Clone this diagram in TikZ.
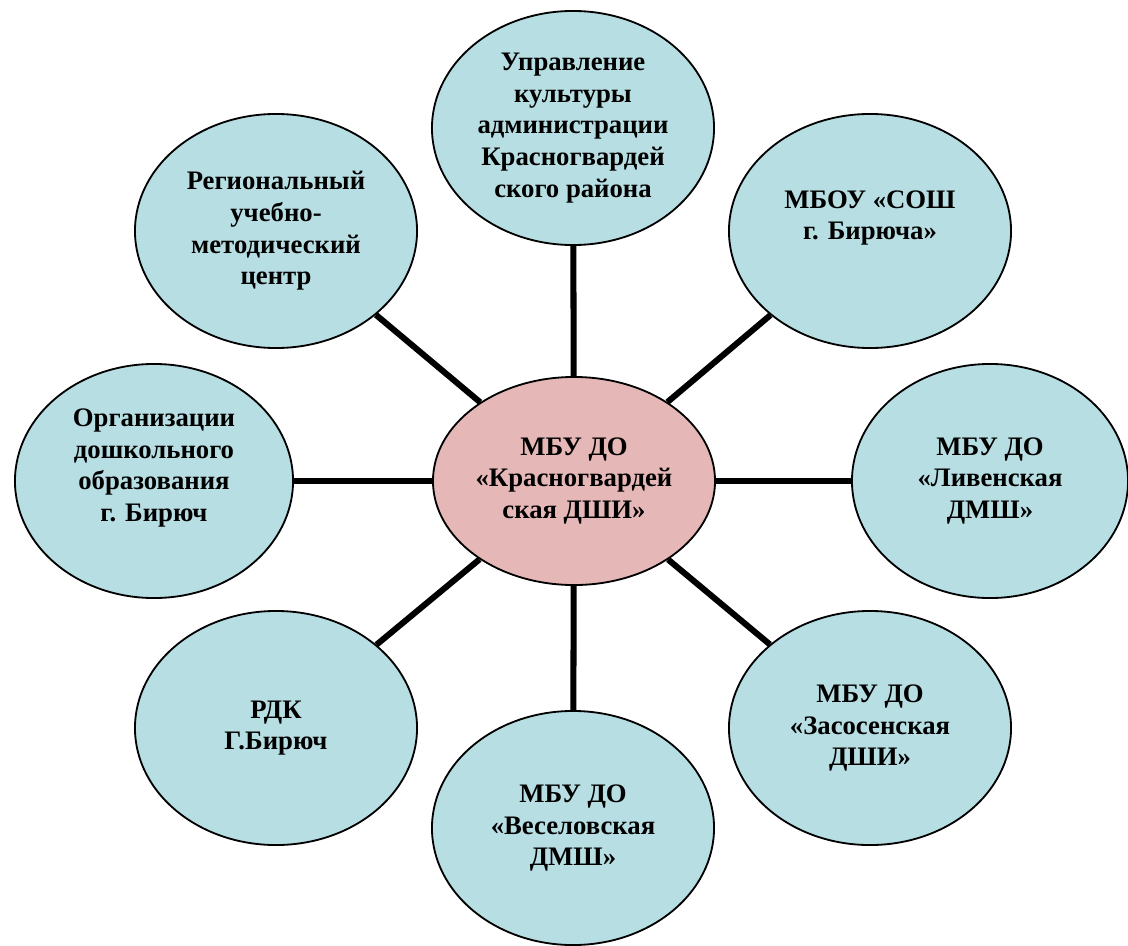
\documentclass[tikz,border=0pt]{standalone}
\usepackage{fontspec}
\setmainfont{Liberation Serif}
\usetikzlibrary{shapes.geometric}
\definecolor{satblue}{RGB}{183,222,227}
\definecolor{hubpink}{RGB}{229,184,183}

\begin{document}
\begin{tikzpicture}[x=0.025cm, y=-0.025cm,
    every node/.style={ellipse, draw, line width=1.3pt, inner sep=0pt, align=center,
      font=\fontsize{19}{22.5}\selectfont\bfseries},
    sat/.style={fill=satblue, minimum width=7.05cm, minimum height=5.85cm},
    hub/.style={fill=hubpink, minimum width=7.05cm, minimum height=5.2cm},
    link/.style={line width=4.3pt}]
  \useasboundingbox (0,0) rectangle (1128,945);
  % centre
  \node[hub] (dshi) at (574,481) {МБУ ДО\\«Красногвардей\\ская ДШИ»};
  % satellites, clockwise from the top
  \node[sat] (upr) at (573,128) {Управление\\культуры\\администрации\\Красногвардей\\ского района};
  \node[sat] (sosh) at (870,231) {МБОУ «СОШ\\г. Бирюча»\\ \mbox{}};
  \node[sat, minimum width=6.9cm] (liv) at (990,481) {МБУ ДО\\«Ливенская\\ДМШ»};
  \node[sat] (zas) at (870,728) {МБУ ДО\\«Засосенская\\ДШИ»};
  \node[sat] (ves) at (573,828) {МБУ ДО\\«Веселовская\\ДМШ»};
  \node[sat] (rdk) at (276,728) {РДК\\Г.Бирюч};
  \node[sat, minimum width=6.95cm] (doo) at (154,481) {Организации\\дошкольного\\образования\\г. Бирюч\\ \mbox{}};
  \node[sat] (rumc) at (276,231) {Региональный\\учебно-\\методический\\центр};
  % spokes
  \foreach \n in {upr,sosh,liv,zas,ves,rdk,doo,rumc} {
    \draw[link] (dshi) -- (\n);
  }
\end{tikzpicture}
\end{document}
